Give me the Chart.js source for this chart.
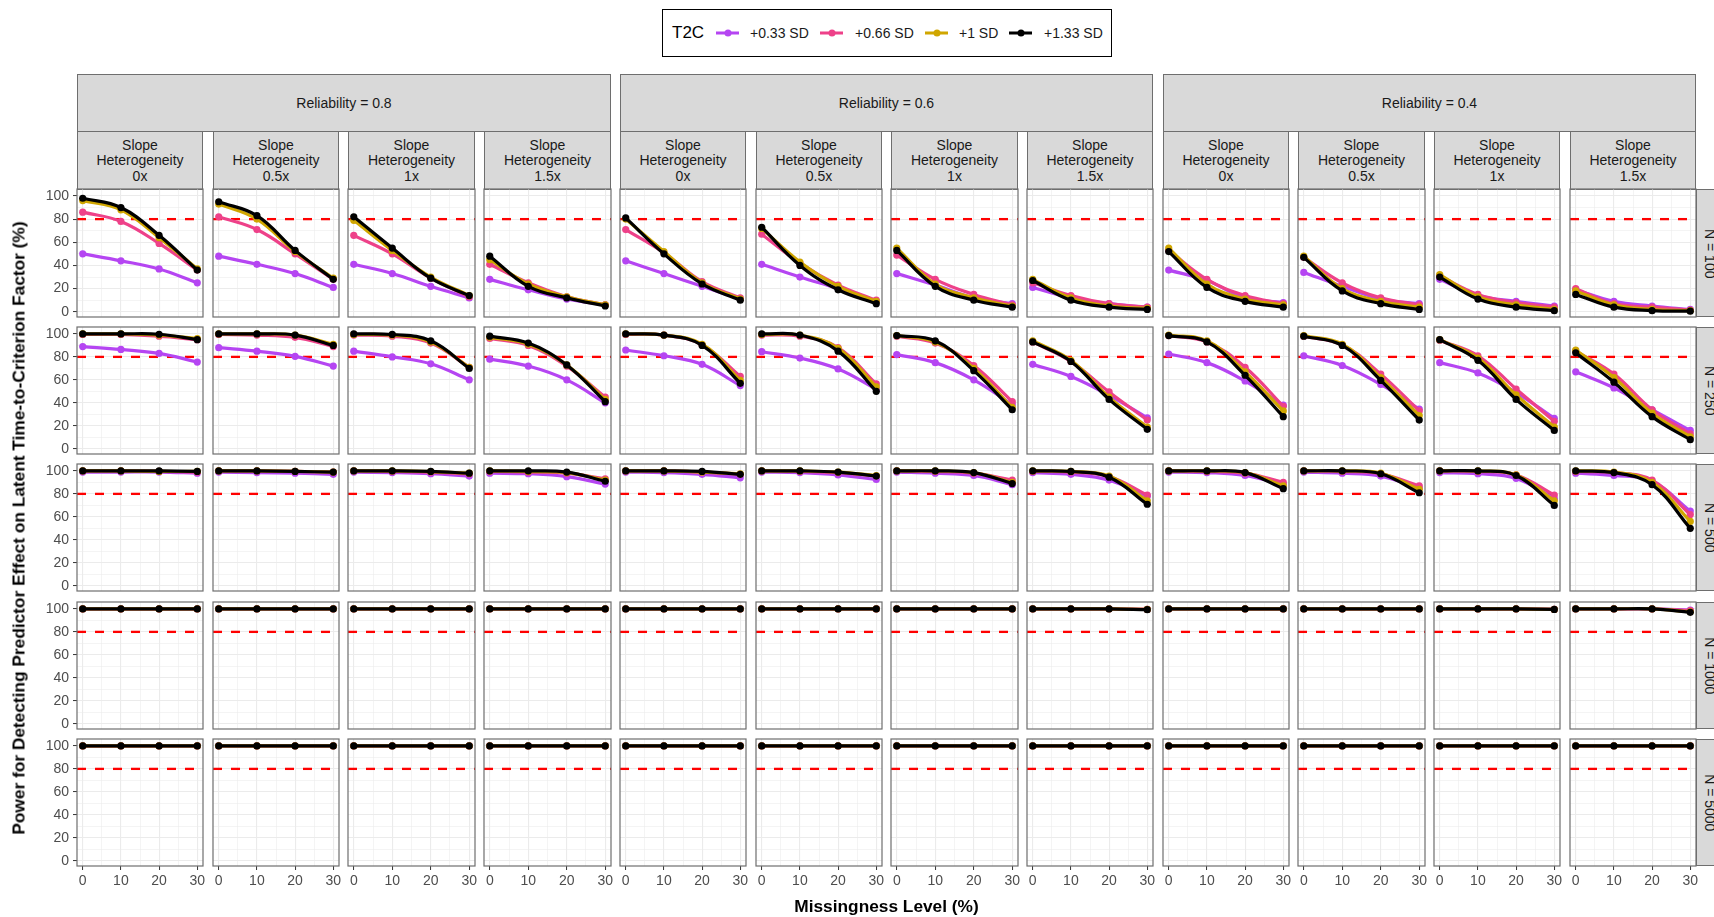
<!DOCTYPE html>
<html>
<head>
<meta charset="utf-8">
<title>Power by missingness level</title>
<script src="https://cdn.jsdelivr.net/npm/chart.js@4.4.1/dist/chart.umd.min.js"></script>
<style>
  html, body { margin: 0; padding: 0; width: 1714px; height: 917px; overflow: hidden; background: #ffffff;
    font-family: "Liberation Sans", Arial, sans-serif; }
  .strip { position: absolute; background: #D9D9D9; border: 1.2px solid #6e6e6e; box-sizing: border-box;
    display: flex; align-items: center; justify-content: center; text-align: center;
    color: #1A1A1A; font-size: 14px; line-height: 15.5px; padding-top: 1px; }
  .strip-y span { transform: rotate(90deg); white-space: nowrap; display: inline-block; }
  .axis-title { position: absolute; font-weight: bold; font-size: 17.3px; color: #000; white-space: nowrap; }
  .legend-box { position: absolute; border: 1.3px solid #000; box-sizing: border-box; background: #fff; }
  .legend-text { position: absolute; font-size: 14px; color: #1A1A1A; white-space: nowrap; transform: translateY(-50%); }
  .legend-line { position: absolute; height: 3px; transform: translateY(-50%); }
  .legend-dot { position: absolute; width: 7px; height: 7px; border-radius: 50%; transform: translate(-50%, -50%); }
  canvas { position: absolute; }
</style>
</head>
<body>
<div id="root"></div>
<script>
// ---- facet levels, axis ticks ----
const MISSINGNESS = [0, 10, 20, 30];
const RELIABILITY = ['0.8', '0.6', '0.4'];
const SLOPE_HET = ['0x', '0.5x', '1x', '1.5x'];
const SAMPLE_SIZES = ['100', '250', '500', '1000', '5000'];
const T2C_LABELS = ['+0.33 SD', '+0.66 SD', '+1 SD', '+1.33 SD'];
const X_TICKS = [0, 10, 20, 30];
const Y_TICKS = [0, 20, 40, 60, 80, 100];
const POWER_TARGET = 80;

// ---- power (%) per panel: order R=0.8 (0x,0.5x,1x,1.5x), R=0.6 (...), R=0.4 (...) ----
// N = 100
const n100_sd033 = [[50,44,37,25],[48,41,33,21],[41,33,22,12],[28,19,11,6],[44,33,22,11],[41,30,20,9],[33,23,12,7],[21,12,7,4],[36,27,12,8],[34,22,11,7],[28,14,9,5],[19,9,5,2]];
const n100_sd066 = [[86,78,59,36],[82,71,50,28],[66,50,29,13],[41,25,13,6],[71,51,26,12],[67,42,23,10],[49,28,15,6],[25,14,7,4],[53,28,14,7],[47,25,12,6],[31,15,8,4],[20,7,4,1.5]];
const n100_sd1   = [[96,88,64,37],[93,80,52,29],[79,53,30,14],[45,24,13,6],[80,52,25,11],[72,43,22,9],[55,24,12,5],[28,12,5,3],[55,24,11,6],[48,20,9,4],[32,13,6,2],[18,6,2,1]];
const n100_sd133 = [[98,90,66,36],[95,83,53,28],[82,55,29,14],[48,22,12,5],[81,50,24,10],[73,40,19,7],[53,22,10,4],[27,10,4,2],[52,21,9,4],[47,18,7,2],[30,11,4,1],[15,4,1,0.5]];
// N = 250
const n250_sd033 = [[89,86.5,83,75.5],[88,85,80.5,72],[85,80,74,60],[78,72,60,40],[86,81,73.5,55],[84.5,79,69.5,52],[82,75,60,38.5],[73.5,63,46.5,27],[82.5,75,59,38],[81,72.5,56,34.5],[75,66,49,26.5],[67,53,34,16]];
const n250_sd066 = [[99.5,99.5,98,95],[99.5,99,97,89],[99,98,92,71],[96,90,72,45],[99.5,99,90.5,63],[99,98,88,56.5],[98,92,72.5,41],[93,76,49.5,25],[98.5,93,71,37],[98,90.5,65,33],[94.5,81,52,24],[85,65,34,13]];
const n250_sd1   = [[100,100,99,96],[100,100,99,91],[99.5,99,93,71],[97,91,73,43],[100,99,91,59.5],[99.5,99,87.5,54],[98.5,93,70,36],[94,77,45,19],[99,94,67,33],[98.5,91,62,29],[95,79,47,19],[86,62,31,10.5]];
const n250_sd133 = [[100,100,99.7,95],[100,100,99,90],[100,99.5,94,70],[98,92,73,41],[100,99,90,57],[100,99,85,50],[98.5,94,68,34],[93,76,43,17],[98.5,93,64,28],[98,90,59.5,25],[95,77,43,16],[83.5,58,28,8]];
// N = 500
const n500_sd033 = [[99,99,99,98],[99,98.5,98,97],[99,98.5,97.5,95.5],[98,97.5,95,88.5],[99,98.5,97,94],[99,98.5,96.5,92.5],[99,98,96,88],[98.5,97,92,78],[99,98.5,96,88],[99,98,95.5,85],[98.5,97.5,93.5,76],[98,96,91,65]];
const n500_sd066 = [[100,100,99.5,99],[100,100,99.5,99],[100,99.5,99,97.5],[99.5,99,98,93],[100,100,99,97],[100,99.5,98.5,95.5],[100,99.5,98,92],[99.5,99,95,79],[100,99.5,98,90],[100,99.5,97.5,87],[100,99.5,96.5,79],[99.5,98.5,92,62]];
const n500_sd1   = [[100,100,99.5,99.5],[100,100,99.5,99],[100,100,99.3,98],[100,99.5,98.5,92],[100,100,99,97.5],[100,100,99,96],[100,100,98.5,90],[100,99.5,95.5,74],[100,100,98.5,87],[100,100,98,84],[100,100,96.5,74],[100,99,90,56]];
const n500_sd133 = [[100,100,100,99.5],[100,100,99.5,99],[100,100,99.5,98],[100,100,99,91],[100,100,99.5,97],[100,100,99,95.5],[100,100,98.5,89],[100,99.5,94.5,71],[100,100,98.5,84.5],[100,100,97.5,81],[100,100,96,70],[100,98.5,88,50]];
// N = 1000
const n1000_sd033 = [[100,100,100,100],[100,100,100,100],[100,100,100,100],[100,100,100,100],[100,100,100,100],[100,100,100,100],[100,100,100,100],[100,100,100,99.5],[100,100,100,100],[100,100,100,100],[100,100,100,99.5],[100,100,100,99]];
const n1000_sd066 = [[100,100,100,100],[100,100,100,100],[100,100,100,100],[100,100,100,100],[100,100,100,100],[100,100,100,100],[100,100,100,100],[100,100,100,99.5],[100,100,100,100],[100,100,100,100],[100,100,100,99.5],[100,100,100,98.5]];
const n1000_sd1   = [[100,100,100,100],[100,100,100,100],[100,100,100,100],[100,100,100,100],[100,100,100,100],[100,100,100,100],[100,100,100,100],[100,100,100,99.5],[100,100,100,100],[100,100,100,100],[100,100,100,99.5],[100,100,100,97.5]];
const n1000_sd133 = [[100,100,100,100],[100,100,100,100],[100,100,100,100],[100,100,100,100],[100,100,100,100],[100,100,100,100],[100,100,100,100],[100,100,100,99.3],[100,100,100,100],[100,100,100,100],[100,100,100,99.5],[100,100,100,97]];
// N = 5000
const n5000_sd033 = [[100,100,100,100],[100,100,100,100],[100,100,100,100],[100,100,100,100],[100,100,100,100],[100,100,100,100],[100,100,100,100],[100,100,100,100],[100,100,100,100],[100,100,100,100],[100,100,100,100],[100,100,100,100]];
const n5000_sd066 = [[100,100,100,100],[100,100,100,100],[100,100,100,100],[100,100,100,100],[100,100,100,100],[100,100,100,100],[100,100,100,100],[100,100,100,100],[100,100,100,100],[100,100,100,100],[100,100,100,100],[100,100,100,100]];
const n5000_sd1   = [[100,100,100,100],[100,100,100,100],[100,100,100,100],[100,100,100,100],[100,100,100,100],[100,100,100,100],[100,100,100,100],[100,100,100,100],[100,100,100,100],[100,100,100,100],[100,100,100,100],[100,100,100,100]];
const n5000_sd133 = [[100,100,100,100],[100,100,100,100],[100,100,100,100],[100,100,100,100],[100,100,100,100],[100,100,100,100],[100,100,100,100],[100,100,100,100],[100,100,100,100],[100,100,100,100],[100,100,100,100],[100,100,100,100]];

const POWER_BY_N = [
  [n100_sd033, n100_sd066, n100_sd1, n100_sd133],
  [n250_sd033, n250_sd066, n250_sd1, n250_sd133],
  [n500_sd033, n500_sd066, n500_sd1, n500_sd133],
  [n1000_sd033, n1000_sd066, n1000_sd1, n1000_sd133],
  [n5000_sd033, n5000_sd066, n5000_sd1, n5000_sd133]
];

// ---- styling ----
const SERIES_COLORS = ['#B545F2', '#EE4189', '#D0A600', '#000000'];
const FONT = '"Liberation Sans", Arial, sans-serif';
const GRID_COLOR = '#EBEBEB';
const BORDER_COLOR = '#6e6e6e';

// ---- panel geometry ----
const PX0 = 77, PITCH_X = 135.7, PW = 126.4;
const PY0 = 189.3, PITCH_Y = 137.4, PH = 127.2;
// room around each plotting area so axis labels never squeeze it
const AXIS_W = 56, AXIS_H = 34, PAD = 16;

const root = document.getElementById('root');

function el(cls, css, html) {
  const d = document.createElement('div');
  d.className = cls;
  Object.assign(d.style, css);
  if (html !== undefined) d.innerHTML = html;
  root.appendChild(d);
  return d;
}

function panelBox(c, r) {
  const L = Math.round(PX0 + c * PITCH_X);
  const R = Math.round(PX0 + c * PITCH_X + PW);
  const T = Math.round(PY0 + r * PITCH_Y);
  const B = Math.round(PY0 + r * PITCH_Y + PH);
  return { L, R, T, B };
}

// reference line at the target power, drawn under the series
const targetLine = {
  id: 'targetLine',
  beforeDatasetsDraw(chart) {
    const { ctx, chartArea, scales } = chart;
    const y = scales.y.getPixelForValue(POWER_TARGET);
    ctx.save();
    ctx.beginPath();
    ctx.rect(chartArea.left, chartArea.top, chartArea.right - chartArea.left, chartArea.bottom - chartArea.top);
    ctx.clip();
    ctx.strokeStyle = '#FF0000';
    ctx.lineWidth = 2.3;
    ctx.setLineDash([9, 9]);
    ctx.beginPath();
    ctx.moveTo(chartArea.left, y);
    ctx.lineTo(chartArea.right, y);
    ctx.stroke();
    ctx.restore();
  }
};

// panel frame
const panelFrame = {
  id: 'panelFrame',
  afterDraw(chart) {
    const { ctx, chartArea } = chart;
    ctx.save();
    ctx.strokeStyle = BORDER_COLOR;
    ctx.lineWidth = 1.2;
    ctx.strokeRect(chartArea.left, chartArea.top, chartArea.right - chartArea.left, chartArea.bottom - chartArea.top);
    ctx.restore();
  }
};

function buildPanel(c, r) {
  const { L, R, T, B } = panelBox(c, r);
  const leftCol = c === 0, bottomRow = r === SAMPLE_SIZES.length - 1;
  const axisW = leftCol ? AXIS_W : 0;
  const axisH = bottomRow ? AXIS_H : 0;
  const padLeft = leftCol ? 0 : PAD;
  const padBottom = bottomRow ? 0 : PAD;
  const w = padLeft + axisW + (R - L) + PAD;
  const h = PAD + (B - T) + axisH + padBottom;

  const cv = document.createElement('canvas');
  cv.width = w; cv.height = h;
  cv.style.left = (L - axisW - padLeft) + 'px';
  cv.style.top = (T - PAD) + 'px';
  cv.style.width = w + 'px';
  cv.style.height = h + 'px';
  root.appendChild(cv);

  const series = POWER_BY_N[r];
  const datasets = series.map((perPanel, k) => ({
    label: T2C_LABELS[k],
    data: MISSINGNESS.map((m, i) => ({ x: m, y: perPanel[c][i] })),
    borderColor: SERIES_COLORS[k],
    backgroundColor: SERIES_COLORS[k],
    pointBackgroundColor: SERIES_COLORS[k],
    borderWidth: 3.2,
    pointRadius: 3.6,
    pointBorderWidth: 0,
    tension: 0.4,
    fill: false,
    order: series.length - k
  }));

  new Chart(cv, {
    type: 'line',
    data: { datasets },
    options: {
      responsive: false,
      animation: false,
      events: [],
      devicePixelRatio: 1,
      layout: { autoPadding: false, padding: { top: PAD, right: PAD, left: padLeft, bottom: padBottom } },
      plugins: { legend: { display: false }, tooltip: { enabled: false } },
      scales: {
        x: {
          type: 'linear', min: -1.5, max: 31.5,
          afterBuildTicks: s => { s.ticks = [0, 5, 10, 15, 20, 25, 30].map(v => ({ value: v })); },
          afterFit: s => { s.height = axisH; },
          border: { display: false },
          grid: {
            color: GRID_COLOR,
            lineWidth: ctx => (X_TICKS.includes(ctx.tick.value) ? 1.1 : 0.55),
            drawTicks: bottomRow, tickLength: 4,
            tickColor: ctx => (X_TICKS.includes(ctx.tick.value) ? '#333333' : 'rgba(0,0,0,0)'),
            tickWidth: 1
          },
          ticks: {
            display: bottomRow, autoSkip: false, maxRotation: 0, minRotation: 0, padding: 3,
            color: '#4D4D4D', font: { family: FONT, size: 14 },
            callback: v => (X_TICKS.includes(v) ? String(v) : '')
          }
        },
        y: {
          type: 'linear', min: -4.5, max: 106,
          afterBuildTicks: s => { s.ticks = [0, 10, 20, 30, 40, 50, 60, 70, 80, 90, 100].map(v => ({ value: v })); },
          afterFit: s => { s.width = axisW; },
          border: { display: false },
          grid: {
            color: GRID_COLOR,
            lineWidth: ctx => (Y_TICKS.includes(ctx.tick.value) ? 1.1 : 0.55),
            drawTicks: leftCol, tickLength: 4,
            tickColor: ctx => (Y_TICKS.includes(ctx.tick.value) ? '#333333' : 'rgba(0,0,0,0)'),
            tickWidth: 1
          },
          ticks: {
            display: leftCol, autoSkip: false, padding: 4,
            color: '#4D4D4D', font: { family: FONT, size: 14 },
            callback: v => (Y_TICKS.includes(v) ? String(v) : '')
          }
        }
      }
    },
    plugins: [targetLine, panelFrame]
  });
}

// ---- facet strips ----
const STRIP_TOP = 74, STRIP_MID = 131;
RELIABILITY.forEach((rel, g) => {
  const a = panelBox(g * 4, 0), b = panelBox(g * 4 + 3, 0);
  el('strip', { left: a.L + 'px', top: STRIP_TOP + 'px', width: (b.R - a.L) + 'px', height: (STRIP_MID - STRIP_TOP + 1) + 'px' },
     'Reliability = ' + rel);
  SLOPE_HET.forEach((s, j) => {
    const p = panelBox(g * 4 + j, 0);
    el('strip', { left: p.L + 'px', top: STRIP_MID + 'px', width: (p.R - p.L) + 'px', height: (p.T - STRIP_MID + 1) + 'px' },
       'Slope<br>Heterogeneity<br>' + s);
  });
});
SAMPLE_SIZES.forEach((n, r) => {
  const p = panelBox(RELIABILITY.length * SLOPE_HET.length - 1, r);
  el('strip strip-y', { left: p.R + 'px', top: p.T + 'px', width: '28px', height: (p.B - p.T) + 'px' },
     '<span>N = ' + n + '</span>');
});

// ---- panels ----
for (let r = 0; r < SAMPLE_SIZES.length; r++) {
  for (let c = 0; c < RELIABILITY.length * SLOPE_HET.length; c++) buildPanel(c, r);
}

// ---- axis titles ----
const first = panelBox(0, 0), last = panelBox(11, 4);
el('axis-title', { left: ((first.L + last.R) / 2) + 'px', top: '906px', transform: 'translate(-50%, -50%)' },
   'Missingness Level (%)');
el('axis-title', { left: '18.6px', top: ((first.T + last.B) / 2) + 'px', transform: 'translate(-50%, -50%) rotate(-90deg)' },
   'Power for Detecting Predictor Effect on Latent Time-to-Criterion Factor (%)');

// ---- legend ----
el('legend-box', { left: '661.7px', top: '9.3px', width: '450px', height: '47.4px' });
el('legend-text', { left: '672px', top: '33px', fontSize: '17px', color: '#000' }, 'T2C');
const KEY_X = [716, 820, 925, 1009];
const LABEL_X = [750, 855, 959, 1044];
T2C_LABELS.forEach((lab, k) => {
  el('legend-line', { left: KEY_X[k] + 'px', top: '33px', width: '23px', background: SERIES_COLORS[k] });
  el('legend-dot', { left: (KEY_X[k] + 11.5) + 'px', top: '33px', background: SERIES_COLORS[k] });
  el('legend-text', { left: LABEL_X[k] + 'px', top: '33px' }, lab);
});
</script>
</body>
</html>
